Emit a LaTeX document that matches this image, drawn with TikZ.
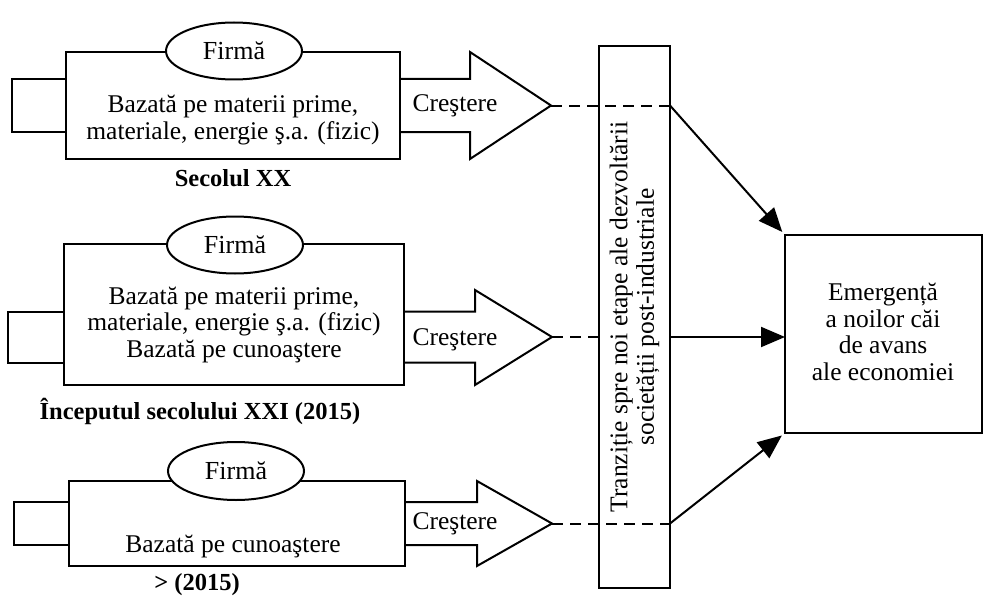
\documentclass[tikz,border=0pt]{standalone}
\usepackage{fontspec}
\setmainfont{Liberation Serif}
\usetikzlibrary{arrows.meta,shapes.geometric,calc}
\begin{document}
\begin{tikzpicture}[x=1pt,y=-1pt,
  frame/.style={draw, line width=2pt, inner sep=0pt, outer sep=0pt},
  oval/.style={ellipse, draw, fill=white, line width=2pt, inner sep=0pt,
    minimum width=136pt, minimum height=57pt, font=\fontsize{26}{28}\selectfont},
  body/.style={align=center, inner sep=0pt, font=\fontsize{25.5}{26.5}\selectfont},
  era/.style={inner sep=0pt, font=\fontsize{24.5}{28}\selectfont\bfseries},
  blockarrow/.style={draw, line width=2pt, line join=miter},
  guide/.style={line width=2pt, dash pattern=on 11pt off 7pt},
  link/.style={line width=2pt, -{Triangle[length=24pt,width=20pt]}}
]
\useasboundingbox (0,0) rectangle (983,602);

% ---- twentieth century firm ----
\node[frame, minimum width=334pt, minimum height=107pt] (r1) at (233,105.5) {};
\node[frame, minimum width=54pt, minimum height=53pt, anchor=east] (s1) at (r1.west) {};
\node[oval] (e1) at (234,51) {Firmă};
\node[body] (t1) at (233,120) {Bazată pe materii prime,\\materiale, energie ş.a. (fizic)};
\coordinate (p1) at (551,105.5);
\draw[blockarrow] (400,79) -- (470,79) -- (470,52) -- (p1) -- (470,159) -- (470,132) -- (400,132);
\node[body] (c1) at (455,105.5) {Creştere};
\node[era] (l1) at (233,178) {Secolul XX};

% ---- early twenty-first century firm ----
\node[frame, minimum width=340pt, minimum height=141pt] (r2) at (234,314.5) {};
\node[frame, minimum width=56pt, minimum height=51pt, anchor=east] (s2) at (64,337) {};
\node[oval] (e2) at (235,245) {Firmă};
\node[body] (t2) at (234,325) {Bazată pe materii prime,\\materiale, energie ş.a. (fizic)\\Bazată pe cunoaştere};
\coordinate (p2) at (552,337);
\draw[blockarrow] (404,311.5) -- (475,311.5) -- (475,290) -- (p2) -- (475,385) -- (475,362.5) -- (404,362.5);
\node[body] (c2) at (455,340) {Creştere};
\node[era] (l2) at (200,411) {Începutul secolului XXI (2015)};

% ---- knowledge-based firm ----
\node[frame, minimum width=336pt, minimum height=85pt] (r3) at (237,523.5) {};
\node[frame, minimum width=55pt, minimum height=43pt, anchor=east] (s3) at (r3.west) {};
\node[oval, minimum height=58pt] (e3) at (236,471) {Firmă};
\node[body] (t3) at (233,547) {Bazată pe cunoaştere};
\coordinate (p3) at (552,523.5);
\draw[blockarrow] (405,502) -- (477,502) -- (477,481) -- (p3) -- (477,566) -- (477,545) -- (405,545);
\node[body] (c3) at (455,523.5) {Creştere};
\node[era] (l3) at (197,585) {> (2015)};

% ---- transition bar and outcome ----
\node[frame, minimum width=71pt, minimum height=541pt] (bar) at (634.5,317) {};
\node[body, rotate=90] (bt) at (bar.center) {Tranziție spre noi etape ale dezvoltării\\societății post-industriale};
\node[frame, minimum width=197pt, minimum height=198pt] (res) at (883.5,334) {};
\node[body] (rt) at (883,332) {Emergență\\a noilor căi\\de avans\\ale economiei};

% ---- connectors ----
\draw[guide] (p1) -- (p1 -| bar.east) coordinate (q1);
\draw[guide] (p2) -- (p2 -| bar.west);
\draw[guide] (p3) -- (p3 -| bar.east) coordinate (q3);
\draw[link, shorten >=4pt] (q1) -- (res.north west);
\draw[link] (p2 -| bar.east) -- (res.west |- p2);
\draw[link, shorten >=4pt] (q3) -- (res.south west);
\end{tikzpicture}
\end{document}
